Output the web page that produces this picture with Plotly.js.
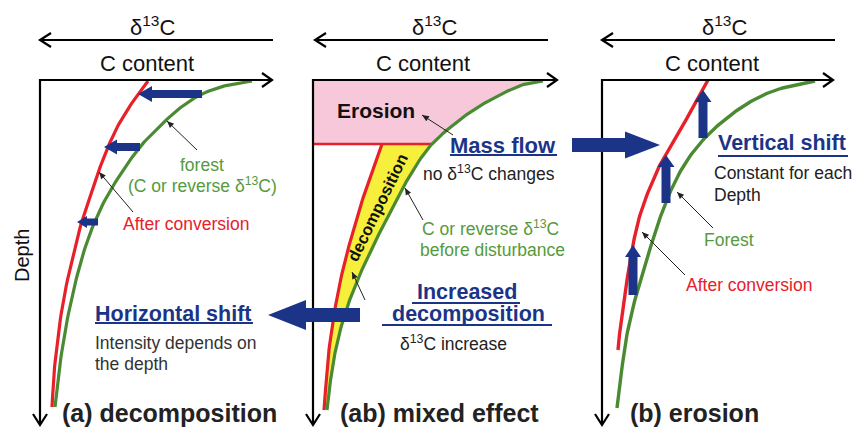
<!DOCTYPE html>
<html><head><meta charset="utf-8">
<script src="https://cdn.plot.ly/plotly-3.0.1.min.js"></script>
<style>html,body{margin:0;padding:0;background:#fff}</style>
</head><body><div id="chart" style="width:854px;height:430px"></div>
<script>
// ---------- data (in picture units) ----------
const forestA_C = [252, 228, 202, 180, 160, 140, 118, 100, 85, 72, 62, 55];
const forestA_D = [81, 85, 94, 108, 126, 147, 178, 210, 248, 297, 350, 407];
const convA_C   = [148, 136, 120, 108, 98, 89, 80, 64, 55, 52];
const convA_D   = [81, 97, 122, 147, 173, 200, 228, 297, 363, 407];

const forestAB_C = [543, 522, 492, 462, 432, 412, 395, 376, 361, 349, 339, 332, 327];
const forestAB_D = [81, 85, 99, 118, 144, 172, 203, 240, 272, 302, 335, 370, 410];
const convAB_C   = [382, 374, 364, 354, 344, 336, 329, 324];
const convAB_D   = [144, 166, 195, 228, 265, 303, 350, 410];
const erosionDepth = 144;

const forestB_C = [815, 790, 768, 745, 722, 703, 686, 672, 660, 649, 637, 626, 617];
const forestB_D = [81, 86, 93, 105, 122, 140, 162, 188, 218, 252, 292, 340, 408];
const convB_C   = [708, 700, 683, 665, 651, 640, 632, 624, 620, 618];
const convB_D   = [80, 95, 125, 155, 185, 215, 250, 300, 330, 350];

const panelLabels = ['(a) decomposition', '(ab) mixed effect', '(b) erosion'];
const axisTop = 'C content';
const axisIso = 'δ<sup>13</sup>C';
const axisDepth = 'Depth';

// ---------- styles / layout constants ----------
const FONT = 'Liberation Sans, Arial, Helvetica, sans-serif';
const RED = '#e8202a', GREEN = '#4a8a32', GTEXT = '#559a3c', BLUE = '#1b3488', DARK = '#222222';
const PINK = '#f7c8da', YELLOW = '#f6ef3c';

function catmull(xs, ys, n) {
  const X = [], Y = [];
  const m = xs.length;
  for (let i = 0; i < m - 1; i++) {
    const p0 = [xs[Math.max(i-1,0)], ys[Math.max(i-1,0)]];
    const p1 = [xs[i], ys[i]], p2 = [xs[i+1], ys[i+1]];
    const p3 = [xs[Math.min(i+2,m-1)], ys[Math.min(i+2,m-1)]];
    for (let k = 0; k < n; k++) {
      const t = k / n, t2 = t*t, t3 = t2*t;
      const f = (a,b,c,d) => 0.5*((2*b) + (-a+c)*t + (2*a-5*b+4*c-d)*t2 + (-a+3*b-3*c+d)*t3);
      X.push(f(p0[0],p1[0],p2[0],p3[0])); Y.push(f(p0[1],p1[1],p2[1],p3[1]));
    }
  }
  X.push(xs[m-1]); Y.push(ys[m-1]);
  return {x: X, y: Y};
}

const traces = [];
function line(x, y, color, width) {
  traces.push({type:'scatter', mode:'lines', x, y, line:{color, width}, hoverinfo:'skip', showlegend:false});
}
function poly(x, y, color) {
  traces.push({type:'scatter', mode:'lines', x, y, fill:'toself', fillcolor:color, line:{width:0, color:color}, hoverinfo:'skip', showlegend:false});
}
function block(x0, y0, x1, y1, s, h, L, color) {
  const len = Math.hypot(x1-x0, y1-y0), ux = (x1-x0)/len, uy = (y1-y0)/len;
  const nx = -uy, ny = ux, bx = x1 - ux*L, by = y1 - uy*L;
  const pts = [[x0+nx*s/2, y0+ny*s/2],[bx+nx*s/2, by+ny*s/2],[bx+nx*h/2, by+ny*h/2],[x1,y1],
               [bx-nx*h/2, by-ny*h/2],[bx-nx*s/2, by-ny*s/2],[x0-nx*s/2, y0-ny*s/2],[x0+nx*s/2, y0+ny*s/2]];
  poly(pts.map(p=>p[0]), pts.map(p=>p[1]), color || BLUE);
}

// dense curves
const fA = catmull(forestA_C, forestA_D, 12), cA = catmull(convA_C, convA_D, 12);
const fAB = catmull(forestAB_C, forestAB_D, 12), cAB = catmull(convAB_C, convAB_D, 12);
const fB = catmull(forestB_C, forestB_D, 12), cB = catmull(convB_C, convB_D, 12);

// (ab) pink erosion region
const pinkX = [313, fAB.x[0]], pinkY = [80, 80];
for (let i = 0; i < fAB.x.length; i++) if (fAB.y[i] <= erosionDepth) { pinkX.push(fAB.x[i]); pinkY.push(fAB.y[i]); }
pinkX.push(313); pinkY.push(erosionDepth);
poly(pinkX, pinkY, PINK);
// (ab) yellow decomposition band
const yX = cAB.x.slice(), yY = cAB.y.slice();
const gx = [], gy = [];
for (let i = 0; i < fAB.x.length; i++) if (fAB.y[i] >= erosionDepth) { gx.push(fAB.x[i]); gy.push(fAB.y[i]); }
const gEdge = gx[0];
poly(yX.concat(gx.slice().reverse()), yY.concat(gy.slice().reverse()), YELLOW);

// curves
line(fA.x, fA.y, GREEN, 3.2); line(cA.x, cA.y, RED, 3.2);
line([313, gEdge], [erosionDepth, erosionDepth], RED, 2.5);
line(fAB.x, fAB.y, GREEN, 3.2); line(cAB.x, cAB.y, RED, 3.2);
line(fB.x, fB.y, GREEN, 3.4); line(cB.x, cB.y, RED, 3.4);

// axes frames with chevrons
const frames = [
  {x0:40, top:272, iso:[40,273]},
  {x0:313, top:557, iso:[315,548]},
  {x0:602, top:833, iso:[602,835]}
];
frames.forEach(f => {
  line([f.top, f.x0, f.x0], [80, 80, 424], '#000', 2.2);
  line([f.top-10, f.top, f.top-10], [73, 80, 87], '#000', 2.2);
  line([f.x0-7, f.x0, f.x0+7], [414, 425, 414], '#000', 2.2);
  line([f.iso[0], f.iso[1]], [40, 40], '#000', 2.2);
  line([f.iso[0]+11, f.iso[0], f.iso[0]+11], [33, 40, 47], '#000', 2.2);
});

// blue shift arrows
[[202,94,138,94,8,16,14],[140,147,104,147,8,15,13],[98,222,77,222,7,12,10]].forEach(a=>block(...a));
[[703,138,703,90,9,17,12],[666,203,666,155,9,17,12],[633,295,633,245,9,16,12]].forEach(a=>block(...a));
block(360,315,268,315,14,30,38);
block(572,145,660,145,14,27,35);

// underlines
[[95,253,323],[450,557,155],[412,520,303],[382,552,325],[718,848,156]].forEach(u=>line([u[0],u[1]],[u[2],u[2]],BLUE,2));

// thin pointer arrows (line + small head)
function ptr(x0, y0, x1, y1) {
  line([x0, x1], [y0, y1], '#222', 1);
  block(x1 - (x1-x0)*0.01, y1 - (y1-y0)*0.01, x1, y1, 0, 6, 7, '#222');
}
ptr(197,150,167,121); ptr(133,212,99,172);
ptr(453,135,422,115); ptr(423,220,405,188); ptr(365,300,352,272);
ptr(713,228,677,192); ptr(685,275,642,232);

// ---------- text annotations ----------
const ann = [];
function txt(text, x, y, anchor, size, color, bold, angle) {
  ann.push({xref:'x', yref:'y', x, y, text: bold ? '<b>'+text+'</b>' : text, showarrow:false,
    xanchor:anchor, yanchor:'middle', textangle: angle||0, borderpad:0,
    font:{family:FONT, size, color}});
}
frames.forEach((f,i) => {
  txt(axisIso, [152,434,724][i], 26, 'center', 22, '#111');
  txt(axisTop, [147,423,712][i], 63, 'center', 22, '#111');
});
txt(axisDepth, 22, 256, 'center', 20, '#111', false, -90);
txt(panelLabels[0], 61, 413, 'left', 25, DARK, true);
txt(panelLabels[1], 339, 413, 'left', 25, DARK, true);
txt(panelLabels[2], 629, 413, 'left', 25, DARK, true);

// panel (a)
txt('forest', 202, 165, 'center', 17.5, GTEXT);
txt('(C or reverse δ<sup>13</sup>C)', 202, 185, 'center', 17.5, GTEXT);
txt('After conversion', 186, 224, 'center', 17.5, RED);
txt('Horizontal shift', 94, 314, 'left', 21.5, BLUE, true);
txt('Intensity depends on', 94, 343, 'left', 17.5, '#333');
txt('the depth', 94, 364, 'left', 17.5, '#333');

// panel (ab)
txt('Erosion', 336, 110, 'left', 21, '#111', true);
txt('Mass flow', 449, 145, 'left', 22, BLUE, true);
txt('no δ<sup>13</sup>C changes', 422, 173, 'left', 17.5, '#222');
txt('C or reverse δ<sup>13</sup>C', 421, 228, 'left', 17.5, GTEXT);
txt('before disturbance', 419, 250, 'left', 17.5, GTEXT);
txt('Increased', 467, 292, 'center', 21.5, BLUE, true);
txt('decomposition', 468, 314, 'center', 21.5, BLUE, true);
txt('δ<sup>13</sup>C increase', 399, 343, 'left', 17.5, '#222');
txt('decomposition', 377, 208, 'center', 16.5, '#111', true, -64);

// panel (b)
txt('Vertical shift', 717, 143, 'left', 21.5, BLUE, true);
txt('Constant for each', 713, 173, 'left', 17.5, '#222');
txt('Depth', 713, 195, 'left', 17.5, '#222');
txt('Forest', 703, 240, 'left', 17.5, GTEXT);
txt('After conversion', 685, 285, 'left', 17.5, RED);

const layout = {
  width:854, height:430, margin:{l:0,r:0,t:0,b:0}, paper_bgcolor:'#fff', plot_bgcolor:'#fff',
  xaxis:{range:[0,854], visible:false, fixedrange:true},
  yaxis:{range:[430,0], visible:false, fixedrange:true},
  showlegend:false, annotations:ann
};
Plotly.newPlot('chart', traces, layout, {staticPlot:true, displayModeBar:false});
</script></body></html>
